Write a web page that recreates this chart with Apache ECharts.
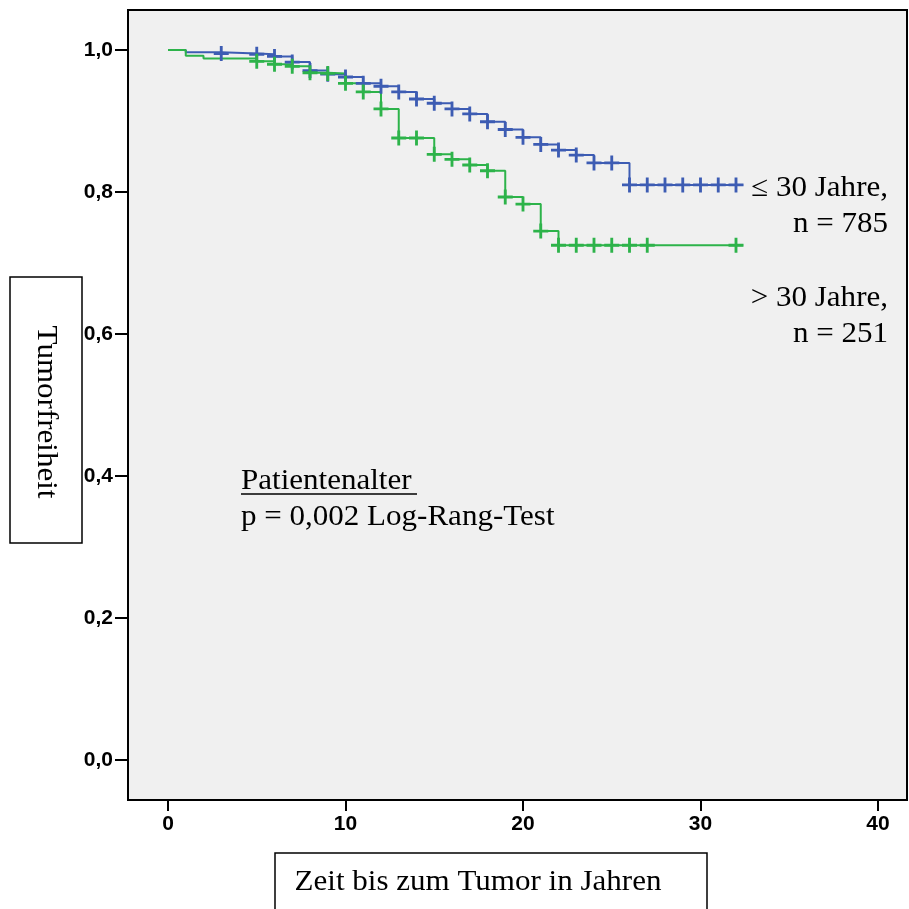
<!DOCTYPE html>
<html><head><meta charset="utf-8">
<script src="https://cdn.jsdelivr.net/npm/echarts@6/dist/echarts.min.js"></script>
<style>html,body{margin:0;padding:0;background:#fff}#c{width:909px;height:909px}</style>
</head><body><div id="c"></div>
<script>
// Kaplan-Meier data (time in years, survival after step)
const youngTimes = [0, 1, 3, 5, 6, 7, 8, 9, 10, 11, 12, 13, 14, 15, 16, 17, 18, 19, 20, 21, 22, 23, 24, 25, 26, 32.4];
const youngSurv  = [1.0, 0.997, 0.995, 0.994, 0.991, 0.983, 0.971, 0.966, 0.962, 0.953, 0.949, 0.941, 0.931, 0.925, 0.917, 0.910, 0.899, 0.888, 0.877, 0.867, 0.859, 0.852, 0.841, 0.841, 0.810, 0.810];
const youngCensor = [3, 5, 6, 7, 8, 9, 10, 11, 12, 13, 14, 15, 16, 17, 18, 19, 20, 21, 22, 23, 24, 25, 26, 27, 28, 29, 30, 31, 32];

const oldTimes = [0, 1, 2, 5, 6, 7, 8, 9, 10, 11, 12, 13, 14, 15, 16, 17, 18, 19, 20, 21, 22, 32.4];
const oldSurv  = [1.0, 0.992, 0.988, 0.984, 0.980, 0.977, 0.968, 0.967, 0.953, 0.941, 0.917, 0.876, 0.876, 0.853, 0.846, 0.838, 0.830, 0.793, 0.783, 0.745, 0.725, 0.725];
const oldCensor = [5, 6, 7, 8, 9, 10, 11, 12, 13, 14, 15, 16, 17, 18, 19, 20, 21, 22, 23, 24, 25, 26, 27, 32];

const xTicks = [0, 10, 20, 30, 40];
const yTickLabels = ['0,0', '0,2', '0,4', '0,6', '0,8', '1,0'];

const legendLines = ['\u2264 30 Jahre,', 'n = 785', '> 30 Jahre,', 'n = 251'];
const noteLines = ['Patientenalter', 'p = 0,002 Log-Rang-Test'];
const yTitle = 'Tumorfreiheit';
const xTitle = 'Zeit bis zum Tumor in Jahren';

const BLUE = '#3d5cb3';
const GREEN = '#2db34a';
const SERIF = "'Liberation Serif','Times New Roman',serif";
const SANS = "'Liberation Sans',Arial,sans-serif";

function survAt(times, surv, t) {
  let v = surv[0];
  for (let i = 0; i < times.length; i++) { if (times[i] <= t) v = surv[i]; }
  return v;
}
const pairs = (ts, ss) => ts.map((t, i) => [t, ss[i]]);
const censorPts = (cs, ts, ss) => cs.map(c => [c, survAt(ts, ss, c)]);

const cross = 'path://M-1,-0.19L1,-0.19L1,0.19L-1,0.19Z M-0.19,-1L0.19,-1L0.19,1L-0.19,1Z';

const chart = echarts.init(document.getElementById('c'), null, {renderer: 'canvas'});

function txt(x, y, text, opts) {
  return {
    type: 'text', x: x, y: y, z: 20, scaleX: 1.07,
    style: Object.assign({text: text, font: '29px ' + SERIF, fill: '#000', align: 'left', verticalAlign: 'middle'}, opts || {})
  };
}

const graphics = [
  {type: 'rect', z: -5, shape: {x: 128, y: 10, width: 779, height: 790}, style: {fill: '#f0f0f0', stroke: '#000', lineWidth: 2}},
  {type: 'rect', z: 5, shape: {x: 10, y: 277, width: 72, height: 266}, style: {fill: '#fff', stroke: '#000', lineWidth: 1.5}},
  {type: 'rect', z: 5, shape: {x: 275, y: 853, width: 432, height: 70}, style: {fill: '#fff', stroke: '#000', lineWidth: 1.5}},
  Object.assign(txt(46, 412, yTitle, {align: 'center'}), {rotation: -Math.PI / 2}),
  txt(478, 882, xTitle, {align: 'center'}),
  txt(888, 188, legendLines[0], {align: 'right'}),
  txt(888, 224, legendLines[1], {align: 'right'}),
  txt(888, 298, legendLines[2], {align: 'right'}),
  txt(888, 334, legendLines[3], {align: 'right'}),
  txt(241, 481, noteLines[0]),
  txt(241, 517, noteLines[1]),
  {type: 'line', z: 20, shape: {x1: 241, y1: 494, x2: 417, y2: 494}, style: {stroke: '#000', lineWidth: 1.5}}
];

chart.setOption({
  animation: false,
  backgroundColor: '#fff',
  grid: {left: 168, right: 31, top: 50, bottom: 149, containLabel: false},
  xAxis: {
    type: 'value', min: 0, max: 40, interval: 10, offset: 40,
    axisLine: {show: true, onZero: false, lineStyle: {color: '#000', width: 2}},
    axisTick: {show: true, length: 11, lineStyle: {color: '#000', width: 2}},
    axisLabel: {margin: 14, color: '#000', fontFamily: SANS, fontSize: 21, fontWeight: 'bold',
      formatter: v => String(xTicks[xTicks.indexOf(v)])},
    splitLine: {show: false}
  },
  yAxis: {
    type: 'value', min: 0, max: 1, interval: 0.2, offset: 40,
    axisLine: {show: true, onZero: false, lineStyle: {color: '#000', width: 2}},
    axisTick: {show: true, length: 13, lineStyle: {color: '#000', width: 2}},
    axisLabel: {margin: 15, color: '#000', fontFamily: SANS, fontSize: 21, fontWeight: 'bold',
      formatter: v => yTickLabels[Math.round(v * 5)]},
    splitLine: {show: false}
  },
  graphic: {elements: graphics},
  series: [
    {type: 'line', step: 'end', data: pairs(youngTimes, youngSurv), symbol: 'none', lineStyle: {color: BLUE, width: 2}, z: 2, clip: false},
    {type: 'line', step: 'end', data: pairs(oldTimes, oldSurv), symbol: 'none', lineStyle: {color: GREEN, width: 2}, z: 3, clip: false},
    {type: 'scatter', data: censorPts(youngCensor, youngTimes, youngSurv), symbol: cross, symbolSize: 15, itemStyle: {color: BLUE, opacity: 1}, z: 4, clip: false},
    {type: 'scatter', data: censorPts(oldCensor, oldTimes, oldSurv), symbol: cross, symbolSize: 15, itemStyle: {color: GREEN, opacity: 1}, z: 5, clip: false}
  ]
});
</script>
</body></html>
